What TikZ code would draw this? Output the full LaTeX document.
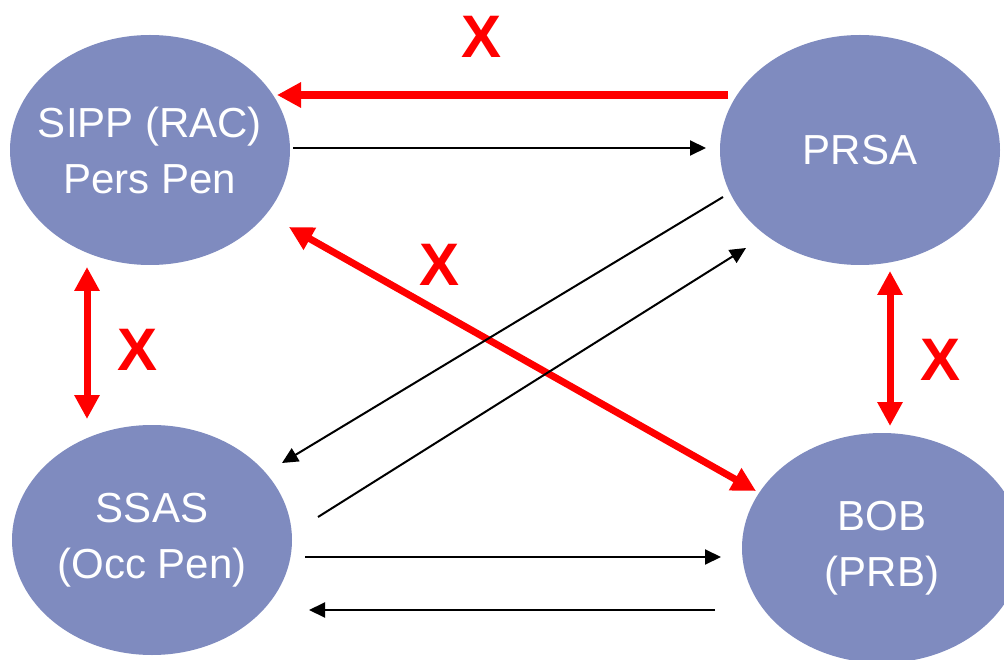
\documentclass[tikz,border=0pt]{standalone}
\usepackage{fontspec}
\setmainfont{Liberation Sans}
\usetikzlibrary{shapes.geometric,arrows.meta}
\definecolor{ellfill}{RGB}{127,139,191}
\begin{document}
\begin{tikzpicture}[x=1pt,y=-1pt,
  ell/.style={ellipse,fill=ellfill,draw=none,minimum width=280pt,minimum height=230pt,inner sep=0pt},
  etext/.style={text=white,align=center,inner sep=0pt,font=\fontsize{42}{56}\selectfont},
  blk/.style={draw=black,line width=2pt,-{Triangle[length=16pt,width=15pt]}},
  redarr/.style={draw=red,line width=8pt,-{Triangle[length=24pt,width=24pt]}},
  redboth/.style={draw=red,line width=7pt,{Triangle[length=24pt,width=24pt]}-{Triangle[length=24pt,width=24pt]}},
  xlab/.style={text=red,font=\fontsize{60}{60}\selectfont\bfseries,inner sep=0pt}]
\useasboundingbox (0,0) rectangle (1004,660);
\fill[white] (0,0) rectangle (1004,660);
\node[ell] (sipp) at (150,150) {};
\node[ell] (prsa) at (860,150) {};
\node[ell] (ssas) at (152,540) {};
\node[ell] (bob) at (882,548) {};
\node[etext] (sippt) at (sipp.center) {SIPP (RAC)\\Pers Pen};
\node[etext] (prsat) at (prsa.center) {PRSA};
\node[etext] (ssast) at (ssas.center) {SSAS\\(Occ Pen)};
\node[etext] (bobt) at (bob.center) {BOB\\(PRB)};
% endpoints
\coordinate (r1s) at (728,95);
\coordinate (r1e) at (277,95);
\coordinate (b1s) at (293,148);
\coordinate (b1e) at (706,148);
\coordinate (lvs) at (87,267);
\coordinate (lve) at (87,419);
\coordinate (rvs) at (890,271);
\coordinate (rve) at (890,426);
\coordinate (dgs) at (289,227);
\coordinate (dge) at (756,491);
\coordinate (d1s) at (723,197);
\coordinate (d1e) at (282,463);
\coordinate (d2s) at (318,517);
\coordinate (d2e) at (746,248);
\coordinate (h1s) at (305,557);
\coordinate (h1e) at (721,557);
\coordinate (h2s) at (715,610);
\coordinate (h2e) at (309,610);
\draw[redarr] (r1s) -- (r1e);
\draw[blk] (b1s) -- (b1e);
\draw[redboth] (lvs) -- (lve);
\draw[redboth] (rvs) -- (rve);
\draw[redboth] (dgs) -- (dge);
\draw[blk] (d1s) -- (d1e);
\draw[blk] (d2s) -- (d2e);
\draw[blk] (h1s) -- (h1e);
\draw[blk] (h2s) -- (h2e);
\node[xlab] (x1) at (482,37) {X};
\node[xlab] (x2) at (440,265) {X};
\node[xlab] (x3) at (138,350) {X};
\node[xlab] (x4) at (940,360) {X};
\end{tikzpicture}
\end{document}
